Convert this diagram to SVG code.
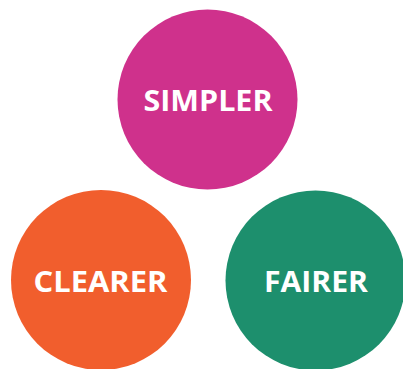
<svg xmlns="http://www.w3.org/2000/svg" width="403" height="369" viewBox="0 0 403 369">
<style>
.lbl{font-family:"Open Sans","Lato","Liberation Sans",sans-serif;font-weight:700;font-size:29px;fill:#fff;text-anchor:middle}
</style>
<rect width="403" height="369" fill="#fff"/>
<g id="connectors"></g>
<g id="simpler">
<circle cx="207.5" cy="99.5" r="90" fill="#CF318C"/>
<text class="lbl" x="208" y="111" textLength="129" lengthAdjust="spacingAndGlyphs">SIMPLER</text>
</g>
<g id="clearer">
<circle cx="101" cy="280" r="90" fill="#F15E2D"/>
<text class="lbl" x="100.5" y="291.5" textLength="134" lengthAdjust="spacingAndGlyphs">CLEARER</text>
</g>
<g id="fairer">
<circle cx="315.5" cy="280.5" r="90" fill="#1D8F6D"/>
<text class="lbl" x="316" y="291.5" textLength="104" lengthAdjust="spacingAndGlyphs">FAIRER</text>
</g>
</svg>
